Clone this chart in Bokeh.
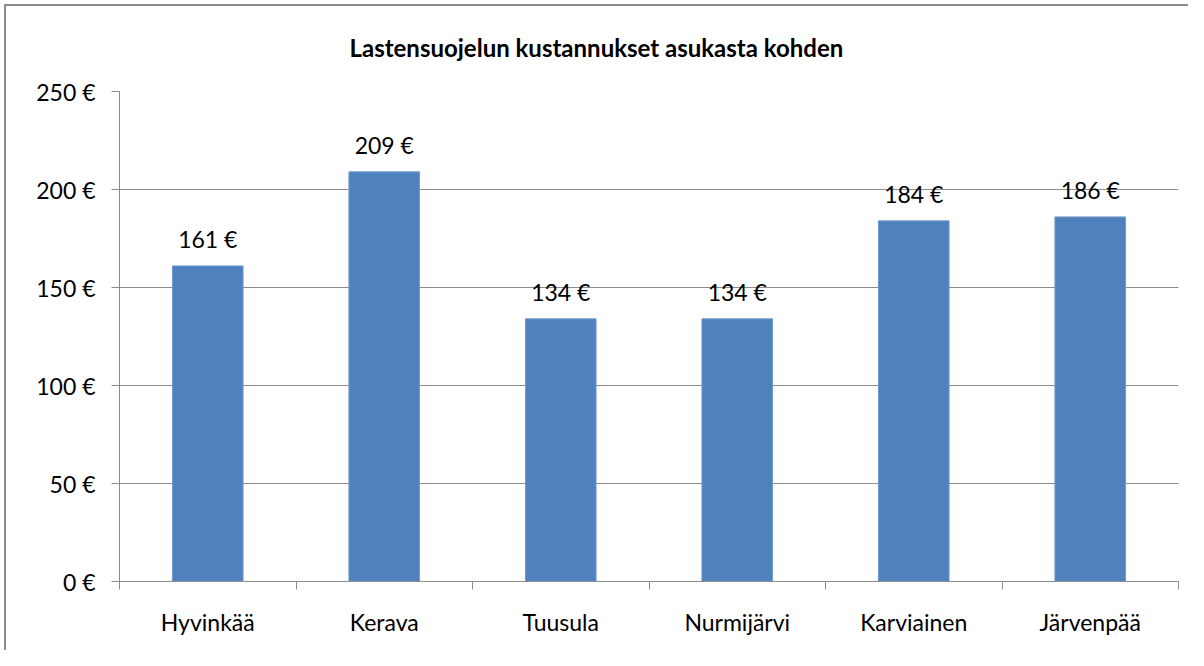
from bokeh.plotting import figure
from bokeh.models import (ColumnDataSource, FixedTicker, PrintfTickFormatter, Range1d)
from bokeh.core.properties import value
from bokeh.embed import file_html
from bokeh.resources import INLINE

categories = ["Hyvinkää", "Kerava", "Tuusula", "Nurmijärvi", "Karviainen", "Järvenpää"]
costs = [161, 209, 134, 134, 184, 186]
y_ticks = [0, 50, 100, 150, 200, 250]
title_text = "Lastensuojelun kustannukset asukasta kohden"

FONT = "Lato"
GRAY = "#8c8c8c"
BLUE = "#4F81BD"

n = len(categories)
centers = [i + 0.5 for i in range(n)]
labels = [f"{v} €" for v in costs]

src = ColumnDataSource(dict(x=centers, top=costs, label=labels))

p = figure(width=1188, height=650, output_backend="svg", toolbar_location=None,
           x_range=Range1d(0, n), y_range=Range1d(0, 250),
           min_border_left=119, min_border_right=10, min_border_top=91, min_border_bottom=69)
p.styles = {"background": "white",
            "box-shadow": "inset 4px 4px 0 0 white, inset 6px 6px 0 0 " + GRAY}
p.outline_line_color = None
p.background_fill_color = "white"
p.border_fill_color = None

p.title.text = title_text
p.title.align = "left"
p.title.offset = 230
p.title.standoff = 60
p.title.text_font = FONT
p.title.text_font_size = "24px"
p.title.text_font_style = "bold"
p.title.text_color = "black"

p.vbar(x="x", top="top", width=0.4, source=src, fill_color=BLUE, line_color="#6f98cc", line_width=1)
p.text(x="x", y="top", text="label", source=src, text_align="center", text_baseline="middle",
       y_offset=-27, text_font=value(FONT), text_font_size="23px", text_color="black")

# x axis: labels at centers, ticks at boundaries
p.xaxis.ticker = FixedTicker(ticks=centers, minor_ticks=list(range(n + 1)))
p.xaxis.major_label_overrides = {c: cat for c, cat in zip(centers, categories)}
p.xaxis.major_tick_out = 0
p.xaxis.major_tick_in = 0
p.xaxis.minor_tick_out = 8
p.xaxis.minor_tick_in = 0
p.xaxis.minor_tick_line_color = GRAY
p.xaxis.axis_line_color = GRAY
p.xaxis.major_label_standoff = 18
p.xaxis.major_label_text_font = FONT
p.xaxis.major_label_text_font_size = "23px"
p.xaxis.major_label_text_color = "black"

p.yaxis.ticker = FixedTicker(ticks=y_ticks)
p.yaxis.formatter = PrintfTickFormatter(format="%d €")
p.yaxis.major_tick_out = 8
p.yaxis.major_tick_in = 0
p.yaxis.minor_tick_out = 0
p.yaxis.minor_tick_in = 0
p.yaxis.major_tick_line_color = GRAY
p.yaxis.axis_line_color = GRAY
p.yaxis.major_label_standoff = 16
p.yaxis.major_label_text_font = FONT
p.yaxis.major_label_text_font_size = "23px"
p.yaxis.major_label_text_color = "black"

p.xgrid.grid_line_color = None
p.ygrid.ticker = FixedTicker(ticks=y_ticks[1:])
p.ygrid.grid_line_color = GRAY

open("out.html", "w").write(file_html(p, INLINE))
